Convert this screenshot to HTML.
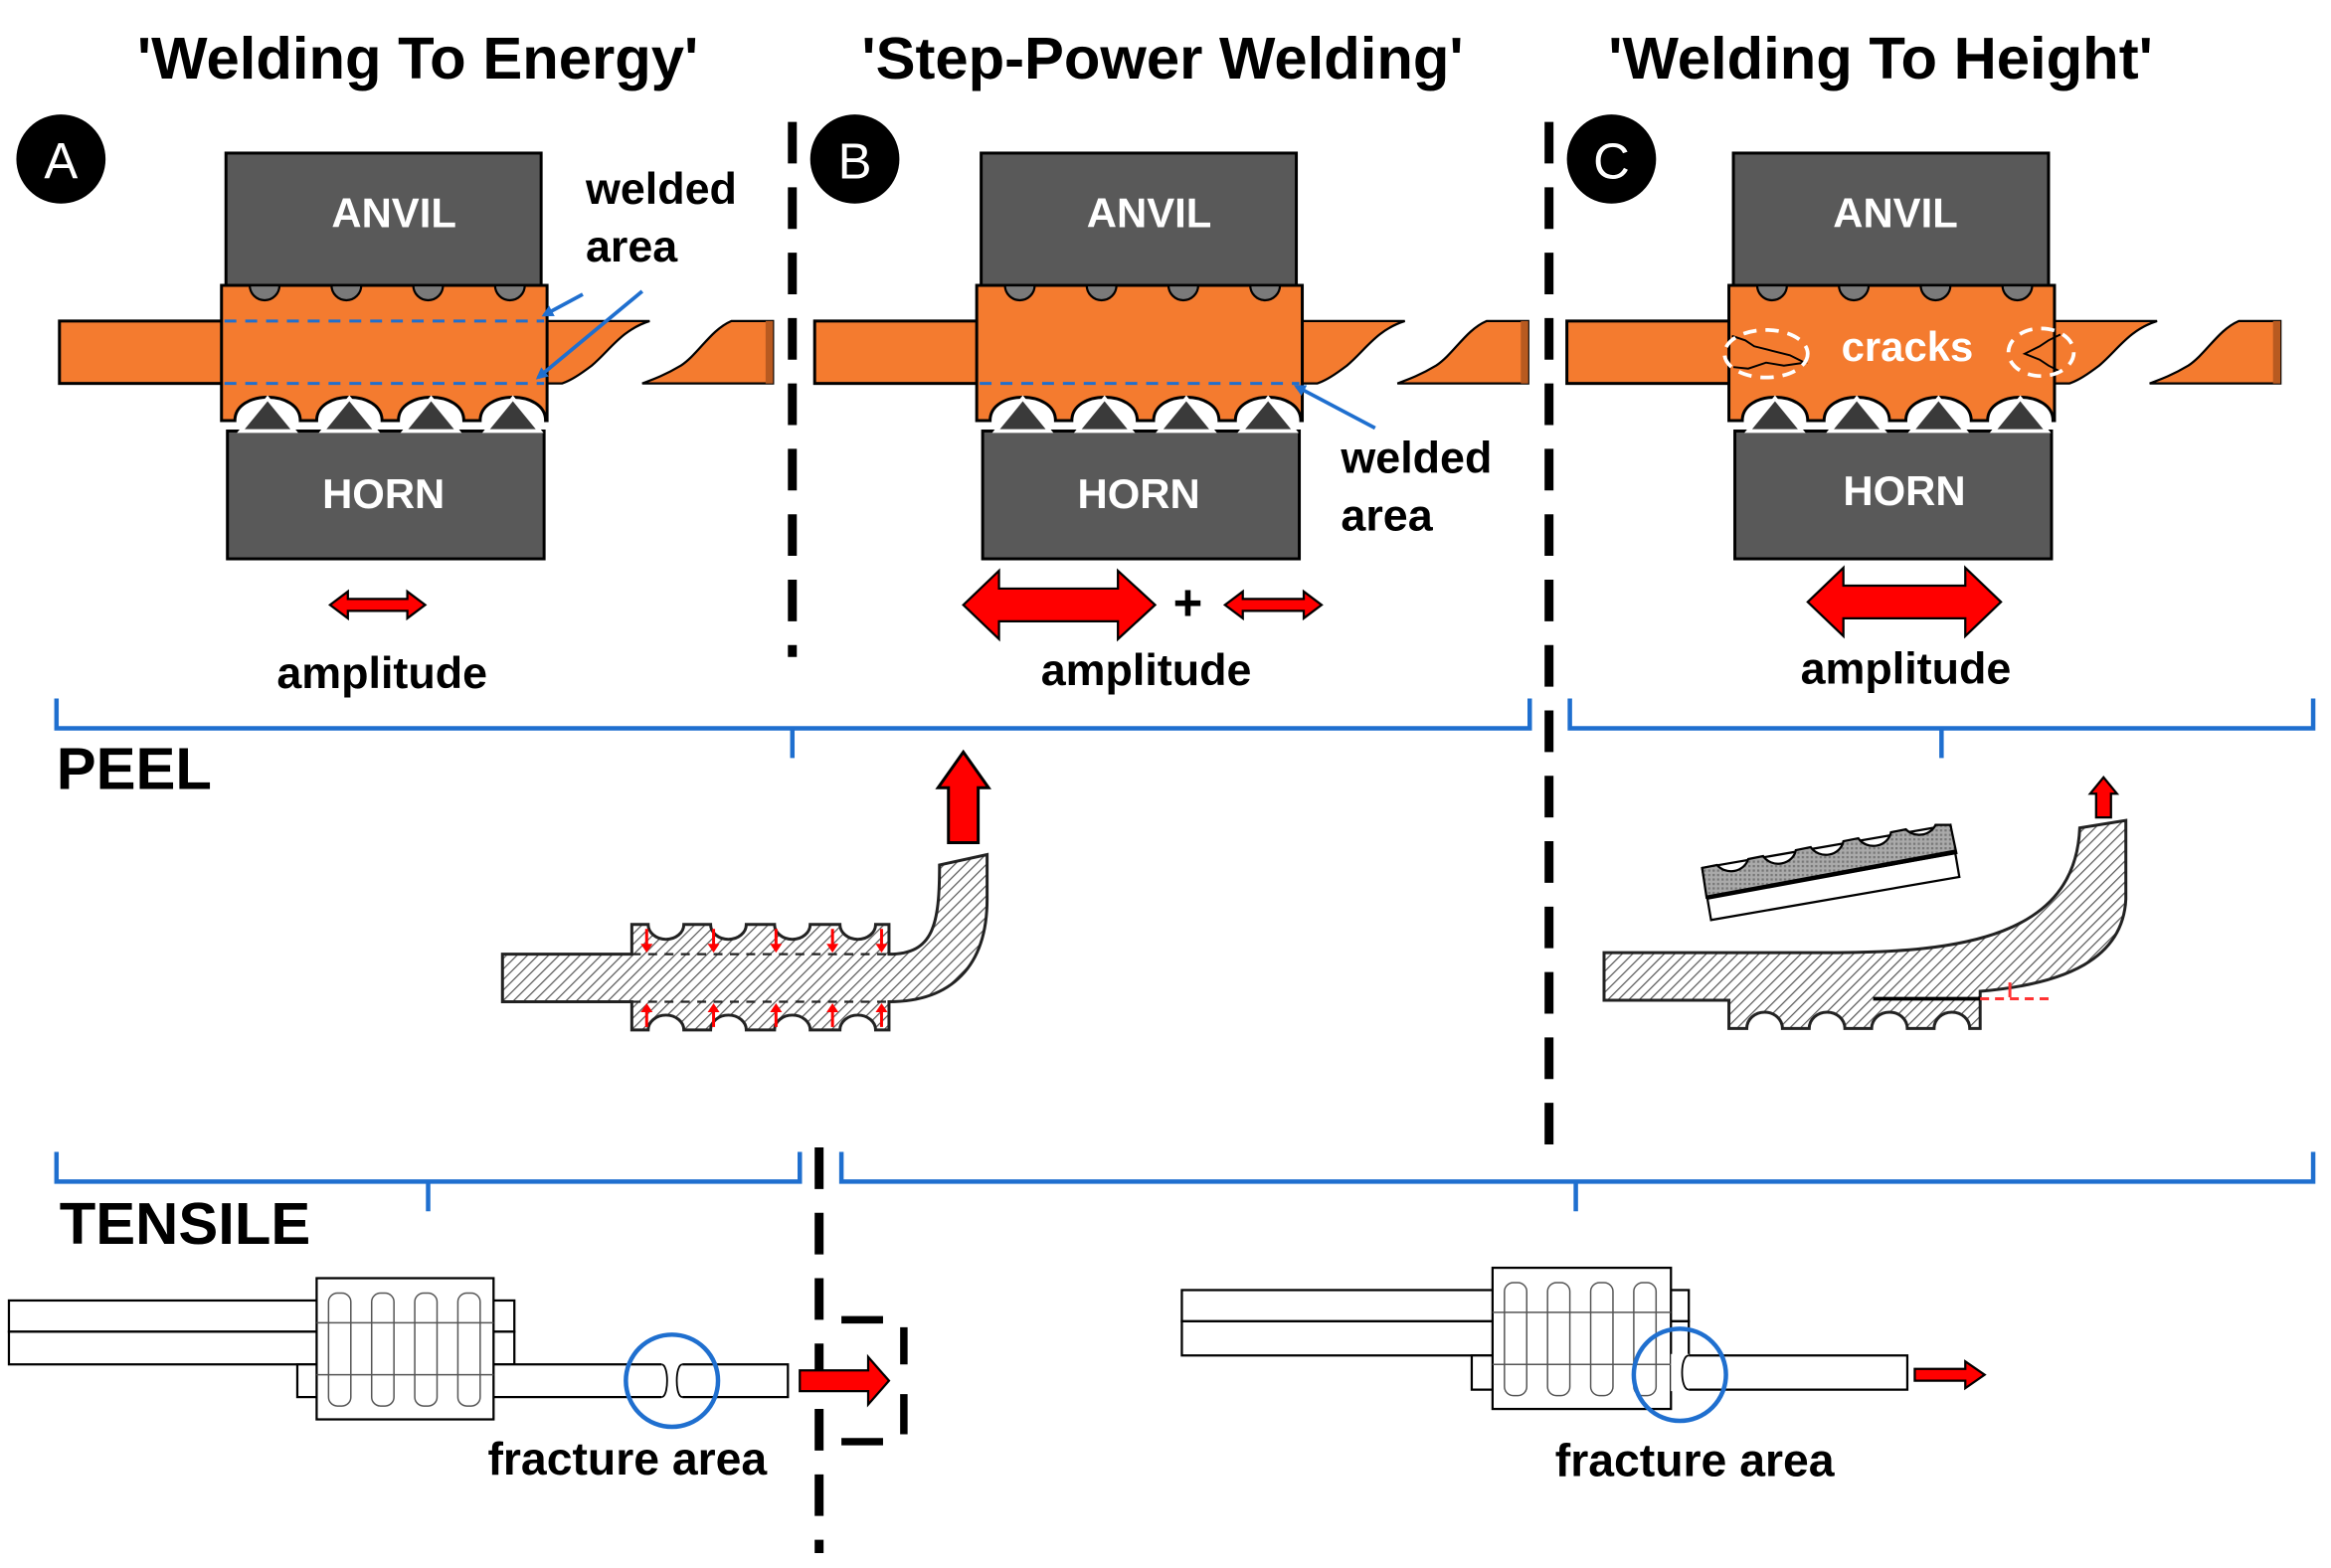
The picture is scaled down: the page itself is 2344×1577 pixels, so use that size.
<!DOCTYPE html>
<html><head><meta charset="utf-8"><style>
html,body{margin:0;padding:0;background:#fff}
svg{display:block}
text{font-family:"Liberation Sans",Arial,sans-serif;font-weight:bold}
</style></head><body>
<svg width="2344" height="1577" viewBox="0 0 1568 1055" preserveAspectRatio="none" xmlns="http://www.w3.org/2000/svg">
<defs>
<pattern id="h" patternUnits="userSpaceOnUse" width="5" height="5" patternTransform="rotate(45)">
<rect width="5" height="5" fill="#fff"/><line x1="0" y1="0" x2="0" y2="5" stroke="#555" stroke-width="1.6"/>
</pattern>
<pattern id="g" patternUnits="userSpaceOnUse" width="3" height="3">
<rect width="3" height="3" fill="#aaa"/><rect width="1.5" height="1.5" fill="#777"/>
</pattern>
<marker id="ba" markerWidth="8" markerHeight="8" refX="6" refY="4" orient="auto" markerUnits="userSpaceOnUse"><path d="M0,0 L8,4 L0,8 Z" fill="#1f6fcf"/></marker>
<g id="weld">
<rect x="152" y="103" width="212" height="89" fill="#595959" stroke="#000" stroke-width="2"/>
<rect x="153" y="290" width="213" height="86" fill="#595959" stroke="#000" stroke-width="2"/>
<rect x="40" y="216" width="112" height="42" fill="#f47b2f" stroke="#000" stroke-width="2"/>
<path d="M366,216 H437 C418,222 410,236 398,246 C390,252 384,256 378,258 H366 Z" fill="#f47b2f" stroke="#000" stroke-width="1.5"/>
<path d="M520,216 H492 C478,222 470,238 458,246 C448,252 440,255 432,258 H520 Z" fill="#f47b2f" stroke="#000" stroke-width="1.5"/>
<rect x="515" y="216" width="5" height="42" fill="#b85a20"/>
<path d="M149,192 H368 V283 H367 C367,262 323,262 323,283 H312 C312,262 268,262 268,283 H257 C257,262 213,262 213,283 H202 C202,262 158,262 158,283 H149 Z" fill="#f47b2f" stroke="#000" stroke-width="2"/>
<g fill="#3a3a3a" stroke="#fff" stroke-width="2.5">
<path d="M162,290 L180,268 L198,290 Z"/><path d="M217,290 L235,268 L253,290 Z"/><path d="M272,290 L290,268 L308,290 Z"/><path d="M327,290 L345,268 L363,290 Z"/>
</g>
<g fill="#7a7a7a" stroke="#000" stroke-width="1.5">
<path d="M168,192 A10,10 0 0 0 188,192 Z"/><path d="M223,192 A10,10 0 0 0 243,192 Z"/><path d="M278,192 A10,10 0 0 0 298,192 Z"/><path d="M333,192 A10,10 0 0 0 353,192 Z"/>
</g>
</g>
</defs>

<!-- titles -->
<text x="281" y="53" font-size="40" text-anchor="middle">'Welding To Energy'</text>
<text x="782" y="53" font-size="40" text-anchor="middle">'Step-Power Welding'</text>
<text x="1265" y="53" font-size="40" text-anchor="middle">'Welding To Height'</text>

<circle cx="41" cy="107" r="30" fill="#000"/><text x="41" y="120" font-size="34" fill="#fff" text-anchor="middle" style="font-weight:normal">A</text>
<circle cx="575" cy="107" r="30" fill="#000"/><text x="575" y="120" font-size="34" fill="#fff" text-anchor="middle" style="font-weight:normal">B</text>
<circle cx="1084" cy="107" r="30" fill="#000"/><text x="1084" y="120" font-size="34" fill="#fff" text-anchor="middle" style="font-weight:normal">C</text>

<!-- dashed dividers -->
<g stroke="#000" stroke-width="6" stroke-dasharray="28,16">
<line x1="533" y1="82" x2="533" y2="442"/>
<line x1="1042" y1="82" x2="1042" y2="775"/>
<line x1="551" y1="772" x2="551" y2="1045"/>
</g>

<!-- Panel A -->
<use href="#weld"/>
<text x="265" y="153" font-size="28" fill="#fff" text-anchor="middle">ANVIL</text>
<text x="258" y="342" font-size="28" fill="#fff" text-anchor="middle">HORN</text>
<g stroke="#1f6fcf" stroke-width="2" stroke-dasharray="8,6"><line x1="151" y1="216" x2="366" y2="216"/><line x1="151" y1="258" x2="366" y2="258"/></g>
<g stroke="#1f6fcf" stroke-width="2.5" marker-end="url(#ba)"><line x1="392" y1="198" x2="366" y2="212"/><line x1="432" y1="196" x2="362" y2="254"/></g>
<text x="394" y="137" font-size="30">welded</text><text x="394" y="176" font-size="30">area</text>

<!-- Panel B -->
<use href="#weld" transform="translate(508,0)"/>
<text x="773" y="153" font-size="28" fill="#fff" text-anchor="middle">ANVIL</text>
<text x="766" y="342" font-size="28" fill="#fff" text-anchor="middle">HORN</text>
<line x1="659" y1="258" x2="874" y2="258" stroke="#1f6fcf" stroke-width="2" stroke-dasharray="8,6"/>
<line x1="925" y1="288" x2="872" y2="260" stroke="#1f6fcf" stroke-width="2.5" marker-end="url(#ba)"/>
<text x="902" y="318" font-size="30">welded</text><text x="902" y="357" font-size="30">area</text>

<!-- Panel C -->
<g transform="translate(1014,0)"><use href="#weld"/></g>
<text x="1275" y="153" font-size="28" fill="#fff" text-anchor="middle">ANVIL</text>
<text x="1281" y="340" font-size="28" fill="#fff" text-anchor="middle">HORN</text>
<text x="1283" y="243" font-size="28" fill="#fff" text-anchor="middle">cracks</text>
<g fill="none" stroke="#000" stroke-width="1.3">
<path d="M1165,226 L1174,229 L1180,233 L1192,236 L1204,239 L1214,244 L1200,246 L1188,244 L1176,248 L1166,247"/>
<path d="M1386,225 L1378,229 L1372,233 L1362,238 L1372,242 L1378,246 L1386,250"/>
</g>
<g fill="none" stroke="#fff" stroke-width="2.5" stroke-dasharray="9,6">
<ellipse cx="1188" cy="238" rx="28" ry="16"/><ellipse cx="1373" cy="237" rx="22" ry="16"/>
</g>

<!-- amplitude arrows -->
<g fill="#f00" stroke="#000" stroke-width="1.5">
<path d="M222,407 L234,398 V403 H274 V398 L286,407 L274,416 V411 H234 V416 Z"/>
<path d="M648,407 L672,384 V396 H752 V384 L777,407 L752,430 V418 H672 V430 Z"/>
<path d="M824,407 L836,398 V403 H877 V398 L889,407 L877,416 V411 H836 V416 Z"/>
<path d="M1216,405 L1240,382 V394 H1322 V382 L1346,405 L1322,428 V416 H1240 V428 Z"/>
</g>
<text x="799" y="417" font-size="34" text-anchor="middle">+</text>
<text x="257" y="463" font-size="30" text-anchor="middle">amplitude</text>
<text x="771" y="461" font-size="30" text-anchor="middle">amplitude</text>
<text x="1282" y="460" font-size="30" text-anchor="middle">amplitude</text>

<!-- braces -->
<g fill="none" stroke="#1f6fcf" stroke-width="3">
<path d="M38,470 V490 H533 V510 M533,490 H1029 V470"/>
<path d="M1056,470 V490 H1306 V510 M1306,490 H1556 V470"/>
<path d="M38,775 V795 H288 V815 M288,795 H538 V775"/>
<path d="M566,775 V795 H1060 V815 M1060,795 H1556 V775"/>
</g>
<text x="38" y="531" font-size="40">PEEL</text>
<text x="40" y="837" font-size="40">TENSILE</text>

<!-- Peel B -->
<path d="M338,642 H425 V622 H436 A12,10 0 0 0 460,622 H478 A12,10 0 0 0 502,622 H521 A12,10 0 0 0 545,622 H565 A12,10 0 0 0 589,622 H598 V642 C628,642 632,622 632,582 L664,575 V605 C664,650 640,674 598,674 V693 H589 A12,10 0 0 0 565,693 H545 A12,10 0 0 0 521,693 H502 A12,10 0 0 0 478,693 H460 A12,10 0 0 0 436,693 H425 V674 H338 Z" fill="url(#h)" stroke="#222" stroke-width="2"/>
<g stroke="#222" stroke-width="1.5" stroke-dasharray="6,5"><line x1="425" y1="642" x2="598" y2="642"/><line x1="425" y1="674" x2="598" y2="674"/></g>
<g stroke="#f00" stroke-width="2" fill="#f00">
<line x1="435" y1="625" x2="435" y2="636"/><line x1="480" y1="625" x2="480" y2="636"/><line x1="522" y1="625" x2="522" y2="636"/><line x1="560" y1="625" x2="560" y2="636"/><line x1="593" y1="625" x2="593" y2="636"/>
<line x1="435" y1="691" x2="435" y2="680"/><line x1="480" y1="691" x2="480" y2="680"/><line x1="522" y1="691" x2="522" y2="680"/><line x1="560" y1="691" x2="560" y2="680"/><line x1="593" y1="691" x2="593" y2="680"/>
</g>
<g fill="#f00" stroke="none">
<path d="M431,635 H439 L435,641 Z"/><path d="M476,635 H484 L480,641 Z"/><path d="M518,635 H526 L522,641 Z"/><path d="M556,635 H564 L560,641 Z"/><path d="M589,635 H597 L593,641 Z"/>
<path d="M431,681 H439 L435,675 Z"/><path d="M476,681 H484 L480,675 Z"/><path d="M518,681 H526 L522,675 Z"/><path d="M556,681 H564 L560,675 Z"/><path d="M589,681 H597 L593,675 Z"/>
</g>
<path d="M638,567 V530 H631 L648,506 L665,530 H658 V567 Z" fill="#f00" stroke="#000" stroke-width="2"/>

<!-- Peel C -->
<path d="M1145,584 L1312,555 L1318,590 L1151,619 Z" fill="#fff" stroke="#000" stroke-width="1.5"/>
<path d="M1145,584 L1155,582 A12,11 0 0 0 1176,578 L1186,576 A12,11 0 0 0 1208,572 L1218,570 A12,11 0 0 0 1240,566 L1250,564 A12,11 0 0 0 1272,560 L1282,558 A12,11 0 0 0 1302,555 L1312,555 L1316,574 L1148,604 Z" fill="url(#g)" stroke="#000" stroke-width="1.5"/>
<line x1="1148" y1="604" x2="1316" y2="573" stroke="#000" stroke-width="3"/>
<path d="M1079,641 H1230 C1320,641 1396,630 1399,557 L1430,552 V605 C1428,645 1390,662 1332,667 V692 H1325 A12,11 0 0 0 1301,692 H1283 A12,11 0 0 0 1259,692 H1241 A12,11 0 0 0 1217,692 H1199 A12,11 0 0 0 1175,692 H1163 V673 H1079 Z" fill="url(#h)" stroke="#222" stroke-width="2"/>
<path d="M1260,672 L1332,672" stroke="#000" stroke-width="2.5"/>
<path d="M1332,672 H1380" stroke="#f33" stroke-width="2" stroke-dasharray="6,4"/>
<path d="M1352,671 V661" stroke="#f33" stroke-width="2"/>
<path d="M1410,550 V534 H1406 L1415,523 L1424,534 H1420 V550 Z" fill="#f00" stroke="#000" stroke-width="1.5"/>

<!-- Tensile A -->
<g fill="#fff" stroke="#000" stroke-width="1.5">
<rect x="6" y="875" width="340" height="21"/><rect x="6" y="896" width="340" height="22"/>
<rect x="200" y="918" width="330" height="22"/>
<rect x="213" y="860" width="119" height="95"/>
</g>
<g fill="none" stroke="#555" stroke-width="1">
<rect x="221" y="870" width="15" height="76" rx="6"/><rect x="250" y="870" width="15" height="76" rx="6"/><rect x="279" y="870" width="15" height="76" rx="6"/><rect x="308" y="870" width="15" height="76" rx="6"/>
<line x1="213" y1="890" x2="332" y2="890"/><line x1="213" y1="925" x2="332" y2="925"/>
</g>
<rect x="445" y="917" width="14" height="25" fill="#fff"/>
<path d="M445,918 C450,918 450,940 445,940 M459,918 C454,918 454,940 459,940" fill="none" stroke="#000" stroke-width="1.2"/>
<circle cx="452" cy="929" r="31" fill="none" stroke="#1f6fcf" stroke-width="3"/>
<path d="M538,922 H584 V913 L598,929 L584,945 V936 H538 Z" fill="#f00" stroke="#000" stroke-width="1.5"/>
<g stroke="#000" stroke-width="5"><path d="M566,888 H594 M566,970 H594" /><path d="M608,893 V918 M608,938 V965"/></g>
<text x="422" y="992" font-size="31" text-anchor="middle">fracture area</text>

<!-- Tensile C -->
<g fill="#fff" stroke="#000" stroke-width="1.5">
<rect x="795" y="868" width="341" height="21"/><rect x="795" y="889" width="341" height="23"/>
<rect x="990" y="912" width="293" height="23"/>
<rect x="1004" y="853" width="120" height="95"/>
</g>
<g fill="none" stroke="#555" stroke-width="1">
<rect x="1012" y="863" width="15" height="76" rx="6"/><rect x="1041" y="863" width="15" height="76" rx="6"/><rect x="1070" y="863" width="15" height="76" rx="6"/><rect x="1099" y="863" width="15" height="76" rx="6"/>
<line x1="1004" y1="883" x2="1124" y2="883"/><line x1="1004" y1="918" x2="1124" y2="918"/>
</g>
<rect x="1124" y="911" width="12" height="25" fill="#fff"/>
<path d="M1136,912 C1130,912 1130,935 1136,935" fill="none" stroke="#000" stroke-width="1.2"/>
<circle cx="1130" cy="925" r="31" fill="none" stroke="#1f6fcf" stroke-width="3"/>
<path d="M1288,921 H1322 V916 L1335,925 L1322,934 V929 H1288 Z" fill="#f00" stroke="#000" stroke-width="1.5"/>
<text x="1140" y="993" font-size="31" text-anchor="middle">fracture area</text>
</svg>
</body></html>
